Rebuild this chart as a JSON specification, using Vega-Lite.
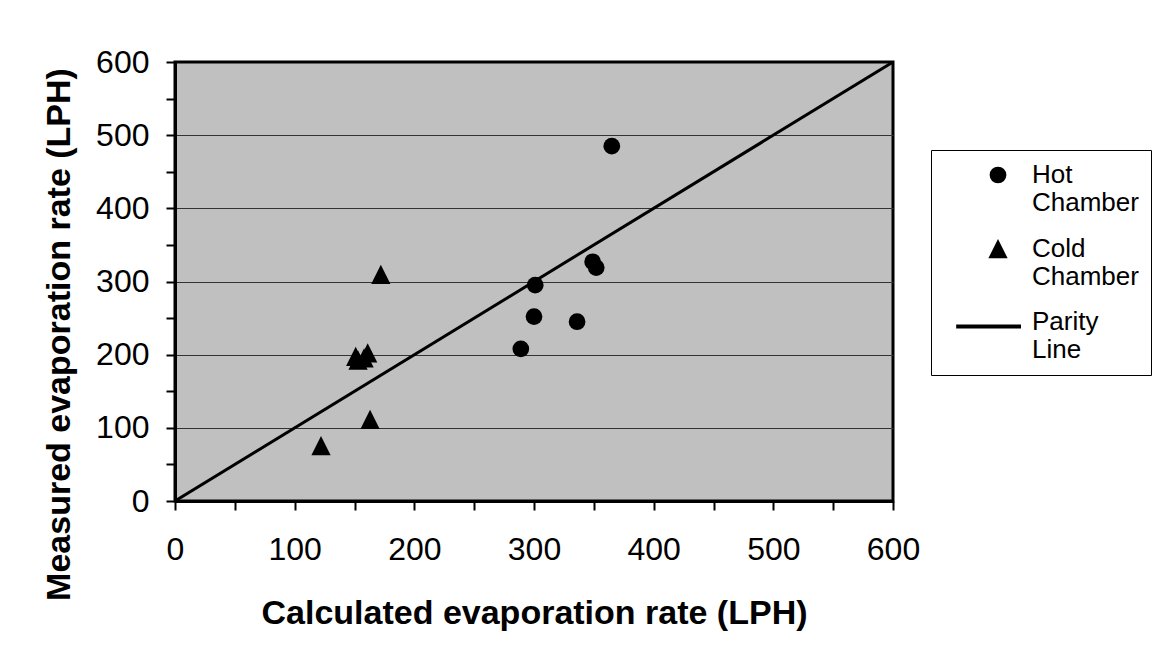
{
  "$schema": "https://vega.github.io/schema/vega-lite/v6.json",
  "width": 718,
  "height": 439,
  "autosize": {"type": "none"},
  "padding": {"left": 175, "top": 62, "right": 278, "bottom": 154},
  "background": "white",
  "config": {
    "font": "Liberation Sans",
    "view": {"fill": "#C0C0C0", "stroke": "black", "strokeWidth": 3}
  },
  "datasets": {
    "parity": [
      {"calc": 0, "meas": 0},
      {"calc": 600, "meas": 600}
    ],
    "points": [
      {"series": "Hot Chamber", "calc": 365, "meas": 485},
      {"series": "Hot Chamber", "calc": 349, "meas": 327},
      {"series": "Hot Chamber", "calc": 352, "meas": 319},
      {"series": "Hot Chamber", "calc": 301, "meas": 295},
      {"series": "Hot Chamber", "calc": 300, "meas": 252},
      {"series": "Hot Chamber", "calc": 336, "meas": 245},
      {"series": "Hot Chamber", "calc": 289, "meas": 208},
      {"series": "Cold Chamber", "calc": 122, "meas": 75},
      {"series": "Cold Chamber", "calc": 163, "meas": 111},
      {"series": "Cold Chamber", "calc": 172, "meas": 309},
      {"series": "Cold Chamber", "calc": 151, "meas": 197},
      {"series": "Cold Chamber", "calc": 161, "meas": 202},
      {"series": "Cold Chamber", "calc": 153, "meas": 192},
      {"series": "Cold Chamber", "calc": 158, "meas": 195}
    ]
  },
  "encoding": {
    "x": {
      "field": "calc",
      "type": "quantitative",
      "scale": {"domain": [0, 600], "nice": false, "zero": true},
      "axis": {
        "title": "Calculated evaporation rate (LPH)",
        "values": [0, 50, 100, 150, 200, 250, 300, 350, 400, 450, 500, 550, 600],
        "labelExpr": "datum.value % 100 === 0 ? datum.label : ''",
        "labelOverlap": false,
        "labelFlush": false,
        "grid": false,
        "domainColor": "black",
        "domainWidth": 3,
        "tickColor": "black",
        "tickWidth": 2,
        "tickSize": 9,
        "labelFontSize": 32,
        "labelColor": "black",
        "labelPadding": 24,
        "titleFontSize": 34,
        "titleFontWeight": "bold",
        "titleColor": "black",
        "titlePadding": 31
      }
    },
    "y": {
      "field": "meas",
      "type": "quantitative",
      "scale": {"domain": [0, 600], "nice": false, "zero": true},
      "axis": {
        "title": "Measured evaporation rate (LPH)",
        "values": [0, 50, 100, 150, 200, 250, 300, 350, 400, 450, 500, 550, 600],
        "labelExpr": "datum.value % 100 === 0 ? datum.label : ''",
        "labelOverlap": false,
        "labelFlush": false,
        "grid": true,
        "gridColor": "#333333",
        "gridWidth": 1,
        "gridOpacity": {"condition": {"test": "datum.value % 100 === 0 && datum.value > 0 && datum.value < 600", "value": 1}, "value": 0},
        "domainColor": "black",
        "domainWidth": 3,
        "tickColor": "black",
        "tickWidth": 2,
        "tickSize": 9,
        "labelFontSize": 32,
        "labelColor": "black",
        "labelPadding": 17,
        "titleFontSize": 34,
        "titleFontWeight": "bold",
        "titleColor": "black",
        "titleAngle": 270,
        "titleAlign": "center",
        "titleBaseline": "alphabetic",
        "titleX": -106,
        "titleY": 272
      }
    }
  },
  "layer": [
    {
      "data": {"name": "parity"},
      "mark": {"type": "line", "color": "black", "strokeWidth": 3, "clip": true}
    },
    {
      "data": {"name": "points"},
      "mark": {"type": "point", "filled": true, "color": "black", "opacity": 1, "size": 280},
      "encoding": {
        "shape": {
          "field": "series",
          "type": "nominal",
          "scale": {
            "domain": ["Hot Chamber", "Cold Chamber", "Parity Line"],
            "range": ["circle", "M0,-1.2L1.15,1.1L-1.15,1.1Z", "M-5,0.3L2.75,0.3L2.75,0.78L-5,0.78Z"]
          },
          "legend": {
            "title": null,
            "orient": "none",
            "legendX": 756,
            "legendY": 88,
            "direction": "vertical",
            "fillColor": "white",
            "strokeColor": "black",
            "padding": 12,
            "symbolOffset": 42,
            "labelOffset": 21,
            "labelFontSize": 26,
            "labelColor": "black",
            "labelLimit": 0,
            "labelExpr": "split(datum.label, ' ')",
            "rowPadding": 19,
            "symbolSize": 280,
            "symbolFillColor": "black",
            "symbolStrokeColor": "black",
            "encode": {
              "symbols": {
                "update": {
                  "fill": {"value": "black"},
                  "opacity": {"value": 1}
                }
              },
              "labels": {
                "update": {"lineHeight": {"value": 25}}
              }
            }
          }
        }
      }
    }
  ]
}
